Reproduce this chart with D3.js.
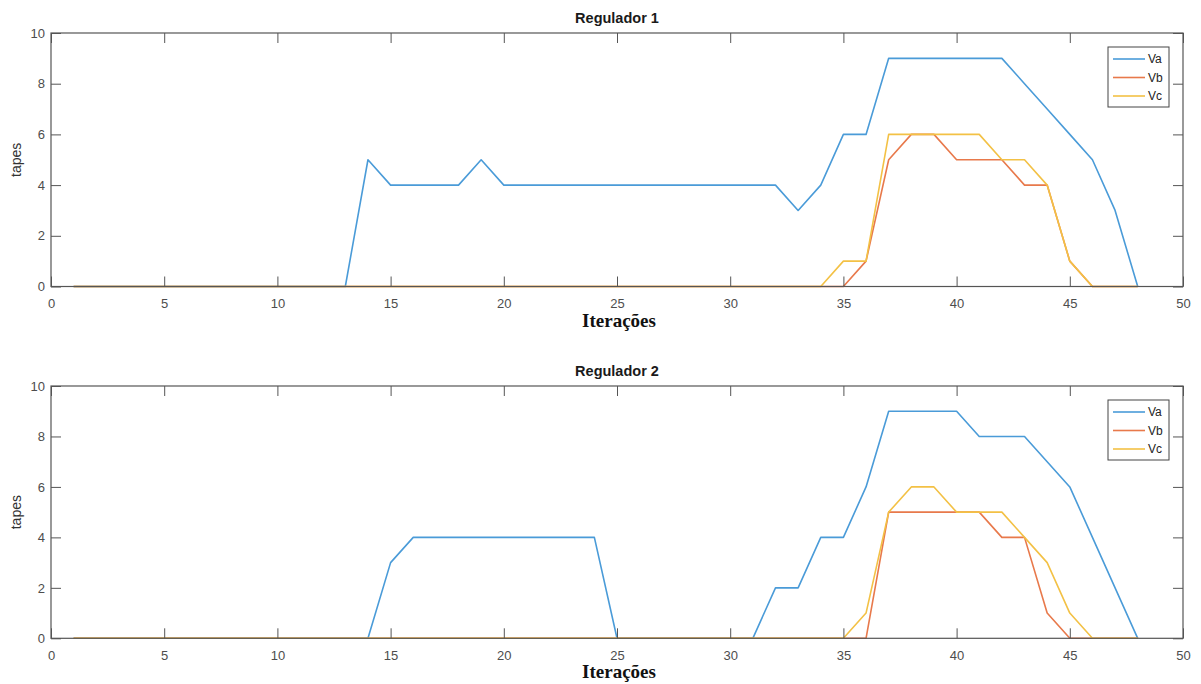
<!DOCTYPE html>
<html>
<head>
<meta charset="utf-8">
<script src="https://cdn.jsdelivr.net/npm/d3@7"></script>
<style>
  html, body { margin: 0; padding: 0; background: #fff; }
  svg { display: block; }
</style>
</head>
<body>
<svg id="chart" width="1201" height="684"></svg>
<script>
// ---- Data ----
const iterations = d3.range(1, 49); // 1..48
const seriesNames = ["Va", "Vb", "Vc"];
const xTicks = [0, 5, 10, 15, 20, 25, 30, 35, 40, 45, 50];
const yTicks = [0, 2, 4, 6, 8, 10];
const titles = ["Regulador 1", "Regulador 2"];

// Regulador 1
const reg1Va = [0,0,0,0,0,0,0,0,0,0,0,0,0,5,4,4,4,4,5,4,4,4,4,4,4,4,4,4,4,4,4,4,3,4,6,6,9,9,9,9,9,9,8,7,6,5,3,0];
const reg1Vb = [0,0,0,0,0,0,0,0,0,0,0,0,0,0,0,0,0,0,0,0,0,0,0,0,0,0,0,0,0,0,0,0,0,0,0,1,5,6,6,5,5,5,4,4,1,0,0,0];
const reg1Vc = [0,0,0,0,0,0,0,0,0,0,0,0,0,0,0,0,0,0,0,0,0,0,0,0,0,0,0,0,0,0,0,0,0,0,1,1,6,6,6,6,6,5,5,4,1,0,0,0];

// Regulador 2
const reg2Va = [0,0,0,0,0,0,0,0,0,0,0,0,0,0,3,4,4,4,4,4,4,4,4,4,0,0,0,0,0,0,0,2,2,4,4,6,9,9,9,9,8,8,8,7,6,4,2,0];
const reg2Vb = [0,0,0,0,0,0,0,0,0,0,0,0,0,0,0,0,0,0,0,0,0,0,0,0,0,0,0,0,0,0,0,0,0,0,0,0,5,5,5,5,5,4,4,1,0,0,0,0];
const reg2Vc = [0,0,0,0,0,0,0,0,0,0,0,0,0,0,0,0,0,0,0,0,0,0,0,0,0,0,0,0,0,0,0,0,0,0,0,1,5,6,6,5,5,5,4,3,1,0,0,0];

const colors = ["#4a9bd8", "#e8794b", "#f3c145"];

const svg = d3.select("#chart");
const axisColor = "#555";
const labelColor = "#4d4d4d";

function drawPanel(cfg) {
  const x = d3.scaleLinear().domain([0, 50]).range([51, 1183]);
  const y = d3.scaleLinear().domain([0, 10]).range([cfg.bottom, cfg.top]);
  const g = svg.append("g");

  // lines
  const line = d3.line().x(d => x(d[0])).y(d => y(d[1]));
  cfg.series.forEach((vals, i) => {
    g.append("path")
      .datum(iterations.map((it, k) => [it, vals[k]]))
      .attr("fill", "none")
      .attr("stroke", colors[i])
      .attr("stroke-width", 1.6)
      .attr("stroke-linejoin", "round")
      .attr("d", line);
  });

  const styleAxis = sel => {
    sel.select(".domain").remove();
    sel.selectAll(".tick line").attr("stroke", axisColor).attr("stroke-width", 1);
    sel.selectAll(".tick text")
      .attr("fill", labelColor)
      .style("font-family", "'Liberation Sans', Arial, sans-serif")
      .style("font-size", "13px");
  };

  g.append("g").attr("transform", `translate(0,${cfg.bottom})`)
    .call(d3.axisBottom(x).tickValues(xTicks).tickSizeInner(-10).tickSizeOuter(0).tickPadding(12))
    .call(styleAxis);
  g.append("g").attr("transform", `translate(0,${cfg.top})`)
    .call(d3.axisTop(x).tickValues(xTicks).tickSizeInner(-10).tickSizeOuter(0).tickFormat(""))
    .call(styleAxis);
  g.append("g").attr("transform", `translate(51,0)`)
    .call(d3.axisLeft(y).tickValues(yTicks).tickSizeInner(-10).tickSizeOuter(0).tickPadding(6))
    .call(styleAxis);
  g.append("g").attr("transform", `translate(1183,0)`)
    .call(d3.axisRight(y).tickValues(yTicks).tickSizeInner(-10).tickSizeOuter(0).tickFormat(""))
    .call(styleAxis);

  // box
  g.append("rect")
    .attr("x", x(0)).attr("y", y(10))
    .attr("width", x(50) - x(0)).attr("height", y(0) - y(10))
    .attr("fill", "none").attr("stroke", axisColor).attr("stroke-width", 1.2);

  // title
  g.append("text")
    .attr("x", 617).attr("y", cfg.top - 10)
    .attr("text-anchor", "middle")
    .style("font-family", "'Liberation Sans', Arial, sans-serif")
    .style("font-weight", "bold").style("font-size", "14.5px")
    .attr("fill", "#1a1a1a")
    .text(cfg.title);

  // x label
  g.append("text")
    .attr("x", 619).attr("y", cfg.bottom + 40)
    .attr("text-anchor", "middle")
    .style("font-family", "'Liberation Serif', 'Times New Roman', serif")
    .style("font-weight", "bold").style("font-size", "19px")
    .attr("fill", "#111")
    .text("Iterações");

  // y label
  const yc = (cfg.top + cfg.bottom) / 2;
  g.append("text")
    .attr("transform", `translate(21,${yc}) rotate(-90)`)
    .attr("text-anchor", "middle")
    .style("font-family", "'Liberation Sans', Arial, sans-serif")
    .style("font-size", "14px")
    .attr("fill", "#333")
    .text("tapes");

  // legend
  const lg = g.append("g");
  lg.append("rect")
    .attr("x", 1108).attr("y", cfg.top + 14)
    .attr("width", 61).attr("height", 60)
    .attr("fill", "#fff").attr("stroke", "#444").attr("stroke-width", 1);
  seriesNames.forEach((name, i) => {
    const yy = cfg.top + 26 + i * 18.5;
    lg.append("line")
      .attr("x1", 1113).attr("x2", 1145).attr("y1", yy).attr("y2", yy)
      .attr("stroke", colors[i]).attr("stroke-width", 1.6);
    lg.append("text")
      .attr("x", 1148).attr("y", yy).attr("dy", "0.35em")
      .style("font-family", "'Liberation Sans', Arial, sans-serif")
      .style("font-size", "12px")
      .attr("fill", "#222")
      .text(name);
  });
}

drawPanel({ top: 33, bottom: 286.5, title: titles[0], series: [reg1Va, reg1Vb, reg1Vc] });
drawPanel({ top: 386, bottom: 638.3, title: titles[1], series: [reg2Va, reg2Vb, reg2Vc] });
</script>
</body>
</html>
